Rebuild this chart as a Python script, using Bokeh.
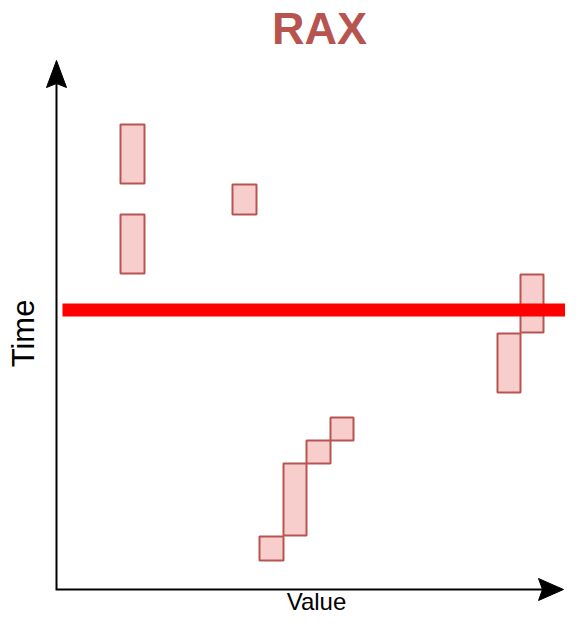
import math
from bokeh.plotting import figure
from bokeh.models import Range1d, ColumnDataSource, Label
from bokeh.embed import file_html
from bokeh.resources import INLINE

# ---- data (value axis, time axis) ----
block_value_start = [64, 64, 176, 203, 227, 250, 274, 441, 464]
block_value_end   = [88, 88, 200, 227, 250, 274, 297, 464, 487]
block_time_start  = [406, 316, 375, 29, 54, 126, 149, 197, 257]
block_time_end    = [465, 375, 405, 53, 126, 149, 172, 256, 315]

threshold_time = 279.5
threshold_value_start = 6
threshold_value_end = 530

axis_value_end = 507
axis_time_end = 529

title_text = "RAX"
x_label = "Value"
y_label = "Time"

STROKE = "#b85450"
FILL = "#f8cecc"

p = figure(width=565, height=615,
           x_range=Range1d(-56, 509), y_range=Range1d(-26, 589),
           x_axis_location=None, y_axis_location=None,
           tools="", toolbar_location=None, output_backend="svg",
           min_border=0, outline_line_color=None,
           background_fill_color="white", border_fill_color="white")
p.grid.visible = False

# axes with arrows
head_len_y, head_w_y, notch_y = 27, 10, 4
head_len_x, head_w_x, notch_x = 25, 11, 4
p.line([0, 0, axis_value_end - head_len_x + notch_x],
       [axis_time_end - head_len_y + notch_y, 0, 0],
       line_color="black", line_width=2, line_join="miter")
p.patches(
    xs=[[0, -head_w_y, 0, head_w_y],
        [axis_value_end, axis_value_end - head_len_x, axis_value_end - head_len_x + notch_x, axis_value_end - head_len_x]],
    ys=[[axis_time_end, axis_time_end - head_len_y, axis_time_end - head_len_y + notch_y, axis_time_end - head_len_y],
        [0, head_w_x, 0, -head_w_x]],
    fill_color="black", line_color="black", line_width=1)

# blocks
src = ColumnDataSource(dict(left=block_value_start, right=block_value_end,
                            bottom=block_time_start, top=block_time_end))
p.quad(left="left", right="right", bottom="bottom", top="top", source=src,
       fill_color=FILL, line_color=STROKE, line_width=2)

# threshold line
p.line([threshold_value_start, threshold_value_end], [threshold_time, threshold_time],
       line_color="#ff0000", line_width=13)

# texts
p.add_layout(Label(x=263, y=561, text=title_text, text_font="Liberation Sans",
                   text_font_size="45px", text_font_style="bold", text_color=STROKE,
                   text_align="center", text_baseline="alphabetic"))
p.add_layout(Label(x=260, y=-12, text=x_label, text_font="Liberation Sans",
                   text_font_size="24px", text_color="black",
                   text_align="center", text_baseline="alphabetic"))
p.add_layout(Label(x=-33, y=256, text=y_label, text_font="Liberation Sans",
                   text_font_size="31px", text_color="black", angle=math.pi / 2,
                   text_align="center", text_baseline="alphabetic"))

open("out.html", "w").write(file_html(p, INLINE))
